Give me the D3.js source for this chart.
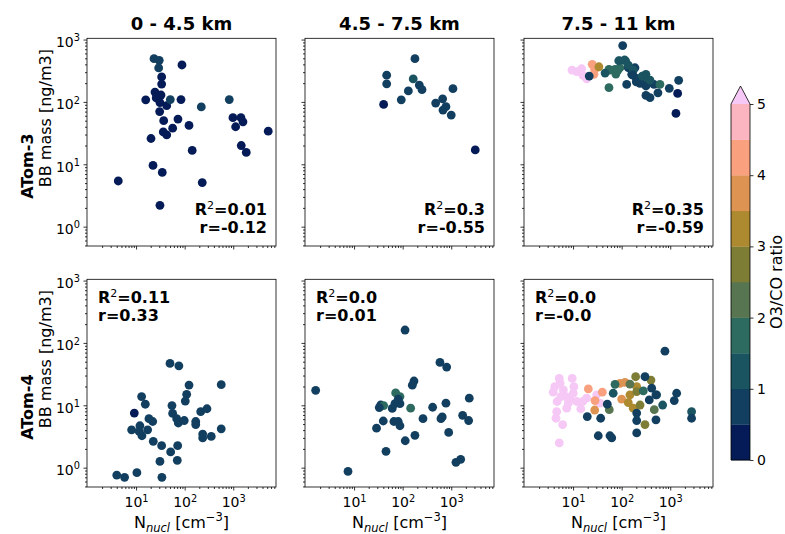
<!DOCTYPE html>
<html><head><meta charset="utf-8">
<script src="https://cdn.jsdelivr.net/npm/d3@7"></script>
<style>body{margin:0;background:#fff} svg{display:block}</style>
</head><body>
<svg id="c" width="785" height="534"></svg>
<script>
// ---------------- DATA ----------------
const colTitles = ["0 - 4.5 km", "4.5 - 7.5 km", "7.5 - 11 km"];
const rowTitles = ["ATom-3", "ATom-4"];
const xTickValues = [10, 100, 1000];
const yTickValues = [1, 10, 100, 1000];
const cbarTicks = [0, 1, 2, 3, 4, 5];
const cbarBounds = [0.5, 1, 1.5, 2, 2.5, 3, 3.5, 4, 4.5, 5];
const cbarColors = ["#041b57", "#123f5f", "#1b5461", "#2d6a5f", "#567550", "#7e7d36",
                    "#ad8a2f", "#dd9453", "#f9a07f", "#fbb5c1", "#f6c8f6"];

// ATom-3, 0 - 4.5 km
const a3_low_nucl = [23.4,30,29.2,88,33.6,33.6,24.5,15.8,26,32.6,31,42.7,50.6,84,220,828,30.6,37,72.8,123,56.6,36.3,42.7,20.3,986,1440,1585,1120,5250,1462,1853,143,22.3,34.6,4.3,230,31];
const a3_low_bb   = [494,464,351,391,252,193,144,108,116,129,97.5,87,109,109,83,109,70,50,53,42,38,33,29.6,25.9,56,56,48,40,34,20,15.5,16.7,9.6,7.4,5.4,5.1,2.2];
const a3_low_o3co = [0.8,0.8,0.8,0.3,0.3,0.3,0.3,0.3,0.3,0.3,0.3,0.3,0.8,0.3,0.8,0.8,0.3,0.3,0.3,0.3,0.3,0.3,0.3,0.3,0.3,0.3,0.3,0.3,0.3,0.3,0.3,0.3,0.3,0.3,0.3,0.3,0.3];
const a3_low_stats = ["0.01", "-0.12"];

// ATom-3, 4.5 - 7.5 km
const a3_mid_nucl = [179,46.9,46.9,165,220,250,131,93.6,40.6,1084,665,478,778,676,1000,3120];
const a3_mid_bb   = [494,268,195,234,186,157,150,108,91,163,112,96,84,74,61.5,17];
const a3_mid_o3co = [0.8,0.8,0.8,1.4,0.8,0.8,0.8,0.8,0.3,0.8,0.8,0.8,0.8,0.8,0.8,0.3];
const a3_mid_stats = ["0.3", "-0.55"];

// ATom-3, 7.5 - 11 km
const a3_high_nucl = [105,11.9,15,19,9.5,16,24.8,27.9,26.9,34,21.5,54.8,54.8,92,121,92,73,137,188,161,127,204,258,316,337,316,462,614,558,316,383,955,1490,1420,1310,57,76,84,87,115,137,174,170,204,238,200,45.6,383,265];
const a3_high_bb   = [800,305,340,235,324,267,400,333,277,366,260,333,169,453,453,353,333,353,353,277,191,230,203,277,230,180,191,191,140,127,117,165,222,137,65.5,324,280,324,457,470,390,324,270,239,199,210,290,224,260];
const a3_high_o3co = [0.8,5.3,5.5,5.2,5.4,5.1,4.3,4.2,4.4,3.2,0.9,1.7,1.8,1.2,1.1,1.6,1.7,0.8,0.9,0.8,0.7,0.9,0.8,1.3,1.2,0.9,0.8,1.6,0.8,0.8,0.8,0.8,0.8,0.3,0.2,1.8,1.7,1.6,1.1,1.0,1.2,1.1,0.9,0.8,0.8,0.7,1.4,1.4,1.3];
const a3_high_stats = ["0.35", "-0.59"];

// ATom-4, 0 - 4.5 km
const a4_low_nucl = [49.9,76,123,566,110,103,13,15.5,54.8,9.2,56.6,68.5,18.4,22,12,8.1,17.3,13.2,74,98,169,169,214,288,235,235,353,566,22.6,33.6,71.8,51.5,70.5,31,10.4,4.0,5.8,34,11.6];
const a4_low_bb   = [46.9,43,21.1,21.4,15,11.7,13.8,10.4,9.9,7.5,7.4,6.1,6.1,5.5,4.7,4.05,4.05,3.25,5.2,5.7,5.5,4.9,7.9,8.8,3.46,3.0,3.17,4.2,2.64,2.25,2.25,1.79,1.31,1.26,0.83,0.76,0.70,0.70,3.8];
const a4_low_o3co = [0.7,0.7,0.7,0.7,0.7,0.7,0.7,0.7,0.7,0.3,0.7,0.7,0.7,0.7,0.7,0.7,0.7,0.7,0.7,0.7,0.7,0.7,0.7,0.7,0.7,0.7,0.7,0.7,0.7,0.7,0.7,0.7,0.7,0.7,0.7,0.7,0.7,0.7,0.7];
const a4_low_stats = ["0.11", "0.33"];

// ATom-4, 4.5 - 7.5 km
const a4_mid_nucl = [112,586,805,171,158,1.62,71.8,88,2350,778,35.3,40.6,69.5,88,33,61,146,414,1717,653,2280,614,262,39.9,66,81,88,29,885,179,113,45.4,1250,1563,7.5,81];
const a4_mid_bb   = [161,48.6,41,24.5,21,17.4,15.8,13.8,13,10.8,10.1,9.9,10.6,10.6,9.2,8.9,9.0,9.3,6.9,6.5,5.7,6.1,6.1,5.6,5.5,5.5,4.7,4.3,3.67,3.3,2.7,1.83,1.22,1.36,0.87,12.6];
const a4_mid_o3co = [0.7,0.7,0.7,0.7,0.7,0.7,1.7,1.7,0.7,0.7,0.7,1.7,0.7,0.7,0.7,0.7,1.7,0.7,0.7,0.7,0.7,0.7,0.7,0.7,0.7,0.7,0.7,0.7,0.7,0.7,0.7,0.7,0.7,0.7,0.7,0.7];
const a4_mid_stats = ["0.0", "0.01"];

// ATom-4, 7.5 - 11 km
const a4_high_nucl = [5.2,9.6,5.4,3.9,6.3,10.4,5.6,7.1,4.7,8.6,11.9,15.8,19,7.4,14.4,4.6,4.45,6.1,5.2,30.6,35.8,4.2,8.0,10.1,
  20.6,40,28.3, 92,117,100,27.9, 148,137,173,204, 194,401,302,204,239, 55.6,469,148,
  73,67,279,525,698,2750, 302,778,415,507,370,1355,1210,2750,508,204,204,204,19.6,37,33,57.5,62.4,50.6];
const a4_high_bb   = [27,27,22.5,16.2,17.6,19.9,13.8,13.8,11.5,12.6,11.5,11.5,13,9.0,8.8,7.9,6.2,4.9,2.49,14.7,10.8,19.9,10.8,15.6,
  18.3,16.2,11.9, 22.5,23.3,12.6,8.4, 14.7,11,9.0,19.9, 28.7,25.4,4.9,16.6,10.1, 8.5,8.5,21.9,
  21.7,15.6,17,14.7,10.1,7.9, 28.7,73.8,18.8,14.7,12.2,15.6,11.9,6.2,5.85,7.5,5.7,3.6,6.6,6.2,3.25,3.25,3.0,10.4];
const a4_high_o3co = [5.5,5.5,5.5,5.5,5.5,5.5,5.5,5.5,5.5,5.5,5.5,5.5,5.5,5.5,5.5,5.5,5.5,5.5,5.5,5.5,5.5,5.5,5.5,5.5,
  4.3,4.4,4.2, 3.7,3.7,3.7,3.7, 3.2,3.2,3.2,3.2, 2.7,2.7,2.7,2.7,2.7, 2.2,2.2,2.2,
  1.6,1.3,1.7,1.2,1.4,1.3, 0.8,0.8,0.8,0.8,0.8,0.8,0.8,0.8,0.8,0.8,0.8,0.8,0.8,0.8,0.8,0.8,0.8,0.8];
const a4_high_stats = ["0.0", "-0.0"];

// ---------------- LAYOUT ----------------
const svg = d3.select("#c");
const FONT = "DejaVu Sans, Verdana, sans-serif";
const colLefts = [87, 305, 524], panelW = 189;
const rowTops = [38.3, 279.3], panelH = 207.7;
const xDomain = [Math.pow(10, -0.01), Math.pow(10, 3.88)];
const yDomain = [Math.pow(10, -0.31), Math.pow(10, 3.02)];
const color = d3.scaleThreshold().domain(cbarBounds).range(cbarColors);

const panels = [
  {row:0,col:0,n:a3_low_nucl,bb:a3_low_bb,r:a3_low_o3co,st:a3_low_stats},
  {row:0,col:1,n:a3_mid_nucl,bb:a3_mid_bb,r:a3_mid_o3co,st:a3_mid_stats},
  {row:0,col:2,n:a3_high_nucl,bb:a3_high_bb,r:a3_high_o3co,st:a3_high_stats},
  {row:1,col:0,n:a4_low_nucl,bb:a4_low_bb,r:a4_low_o3co,st:a4_low_stats},
  {row:1,col:1,n:a4_mid_nucl,bb:a4_mid_bb,r:a4_mid_o3co,st:a4_mid_stats},
  {row:1,col:2,n:a4_high_nucl,bb:a4_high_bb,r:a4_high_o3co,st:a4_high_stats},
];

function minorTicks(dom) {
  const out = [];
  for (let e = -2; e <= 4; e++) for (let m = 2; m <= 9; m++) {
    const v = m * Math.pow(10, e);
    if (v >= dom[0] && v <= dom[1]) out.push(v);
  }
  return out;
}
function supText(sel, exp, size) {
  sel.each(function(d) {
    const t = d3.select(this);
    const e = exp(d);
    t.text(null);
    t.append("tspan").text("10");
    t.append("tspan").attr("dy", -0.42 * size).attr("font-size", size * 0.7).text(e);
  });
}

panels.forEach(p => {
  const L = colLefts[p.col], T = rowTops[p.row];
  const x = d3.scaleLog().domain(xDomain).range([L, L + panelW]);
  const y = d3.scaleLog().domain(yDomain).range([T + panelH, T]);
  const g = svg.append("g");

  // points
  const pts = p.n.map((v, i) => ({n: v, bb: p.bb[i], r: p.r[i]}));
  g.append("g").selectAll("circle").data(pts).join("circle")
    .attr("cx", d => x(d.n)).attr("cy", d => y(d.bb)).attr("r", 4.4)
    .attr("fill", d => color(d.r));

  // bottom axis
  const xb = T + panelH;
  const axMajX = d3.axisBottom(x).tickValues(xTickValues).tickSize(3.5).tickPadding(7)
    .tickFormat(p.row === 1 ? (d => d) : (() => ""));
  const gx = g.append("g").attr("transform", `translate(0,${xb})`).call(axMajX);
  gx.append("g").call(d3.axisBottom(x).tickValues(minorTicks(xDomain)).tickSize(2).tickFormat(() => ""));
  // left axis
  const axMajY = d3.axisLeft(y).tickValues(yTickValues).tickSize(3.5).tickPadding(3.5)
    .tickFormat(p.col === 0 ? (d => d) : (() => ""));
  const gy = g.append("g").attr("transform", `translate(${L},0)`).call(axMajY);
  gy.append("g").call(d3.axisLeft(y).tickValues(minorTicks(yDomain)).tickSize(2).tickFormat(() => ""));

  [gx, gy].forEach(a => {
    a.selectAll(".domain").remove();
    a.selectAll("line").attr("stroke", "#000").attr("stroke-width", 0.8);
    a.selectAll("text").attr("font-family", FONT).attr("font-size", 14).attr("fill", "#000");
  });
  if (p.row === 1) supText(gx.selectAll(".tick text").filter(function(){return this.textContent !== "";}), d => String(Math.round(Math.log10(d))), 14);
  if (p.col === 0) {
    const tl = gy.selectAll(".tick text").filter(function(){return this.textContent !== "";});
    supText(tl, d => String(Math.round(Math.log10(d))), 14);
    tl.attr("dy", "0.5em");
  }

  // frame
  g.append("rect").attr("x", L).attr("y", T).attr("width", panelW).attr("height", panelH)
    .attr("fill", "none").attr("stroke", "#000").attr("stroke-width", 0.8);

  // stats text
  const st = g.append("g").attr("font-family", FONT).attr("font-weight", "bold").attr("font-size", 16).attr("fill", "#000");
  let tx, y1, y2, anchor;
  if (p.row === 0) { tx = L + panelW - 9; y1 = T + 177; y2 = T + 195; anchor = "end"; }
  else { tx = L + 11; y1 = T + 24; y2 = T + 41.5; anchor = "start"; }
  const t1 = st.append("text").attr("x", tx).attr("y", y1).attr("text-anchor", anchor);
  t1.append("tspan").text("R");
  t1.append("tspan").attr("dy", -6).attr("font-size", 11).attr("font-weight", "normal").text("2");
  t1.append("tspan").attr("dy", 6).text("=" + p.st[0]);
  st.append("text").attr("x", tx).attr("y", y2).attr("text-anchor", anchor).text("r=" + p.st[1]);
});

// column titles
colTitles.forEach((t, i) => {
  svg.append("text").attr("x", colLefts[i] + panelW / 2).attr("y", 30)
    .attr("text-anchor", "middle").attr("font-family", FONT).attr("font-weight", "bold")
    .attr("font-size", 18).text(t);
});

// row labels
rowTitles.forEach((t, i) => {
  const cy = rowTops[i] + panelH / 2;
  svg.append("text").attr("transform", `translate(33,${cy + 24}) rotate(-90)`)
    .attr("text-anchor", "middle").attr("font-family", FONT).attr("font-weight", "bold")
    .attr("font-size", 16).text(t);
  svg.append("text").attr("transform", `translate(51,${cy - 24}) rotate(-90)`)
    .attr("text-anchor", "middle").attr("font-family", FONT)
    .attr("font-size", 16).text("BB mass [ng/m3]");
});

// x labels
colLefts.forEach(L => {
  const t = svg.append("text").attr("x", L + panelW / 2).attr("y", 528)
    .attr("text-anchor", "middle").attr("font-family", FONT).attr("font-size", 16);
  t.append("tspan").text("N");
  t.append("tspan").attr("dy", 3.5).attr("font-size", 11.5).attr("font-style", "italic").text("nucl");
  t.append("tspan").attr("dy", -3.5).text(" [cm");
  t.append("tspan").attr("dy", -7).attr("font-size", 11.5).text("\u22123");
  t.append("tspan").attr("dy", 7).text("]");
});

// colorbar
const cbX = 731, cbW = 19, cbTop = 104, cbBot = 460;
const cy = d3.scaleLinear().domain([0, 5]).range([cbBot, cbTop]);
const edges = [0].concat(cbarBounds);
const cb = svg.append("g");
cb.selectAll("rect").data(edges.slice(0, -1)).join("rect")
  .attr("x", cbX).attr("width", cbW)
  .attr("y", (d, i) => cy(edges[i + 1])).attr("height", (d, i) => cy(edges[i]) - cy(edges[i + 1]) + 0.3)
  .attr("fill", d => color(d + 0.01));
cb.append("path").attr("d", `M${cbX},${cbTop}L${cbX + cbW / 2},${cbTop - 18}L${cbX + cbW},${cbTop}Z`)
  .attr("fill", cbarColors[cbarColors.length - 1]);
cb.append("path").attr("d", `M${cbX},${cbBot}L${cbX},${cbTop}L${cbX + cbW / 2},${cbTop - 18}L${cbX + cbW},${cbTop}L${cbX + cbW},${cbBot}Z`)
  .attr("fill", "none").attr("stroke", "#000").attr("stroke-width", 0.8);
const cax = cb.append("g").attr("transform", `translate(${cbX + cbW},0)`)
  .call(d3.axisRight(cy).tickValues(cbarTicks).tickSize(3.5).tickPadding(3.5).tickFormat(d3.format("d")));
cax.select(".domain").remove();
cax.selectAll("line").attr("stroke", "#000").attr("stroke-width", 0.8);
cax.selectAll("text").attr("font-family", FONT).attr("font-size", 14).attr("fill", "#000");
svg.append("text").attr("transform", `translate(782,${(cbTop + cbBot) / 2}) rotate(-90)`)
  .attr("text-anchor", "middle").attr("font-family", FONT).attr("font-size", 16).text("O3/CO ratio");
</script>
</body></html>
